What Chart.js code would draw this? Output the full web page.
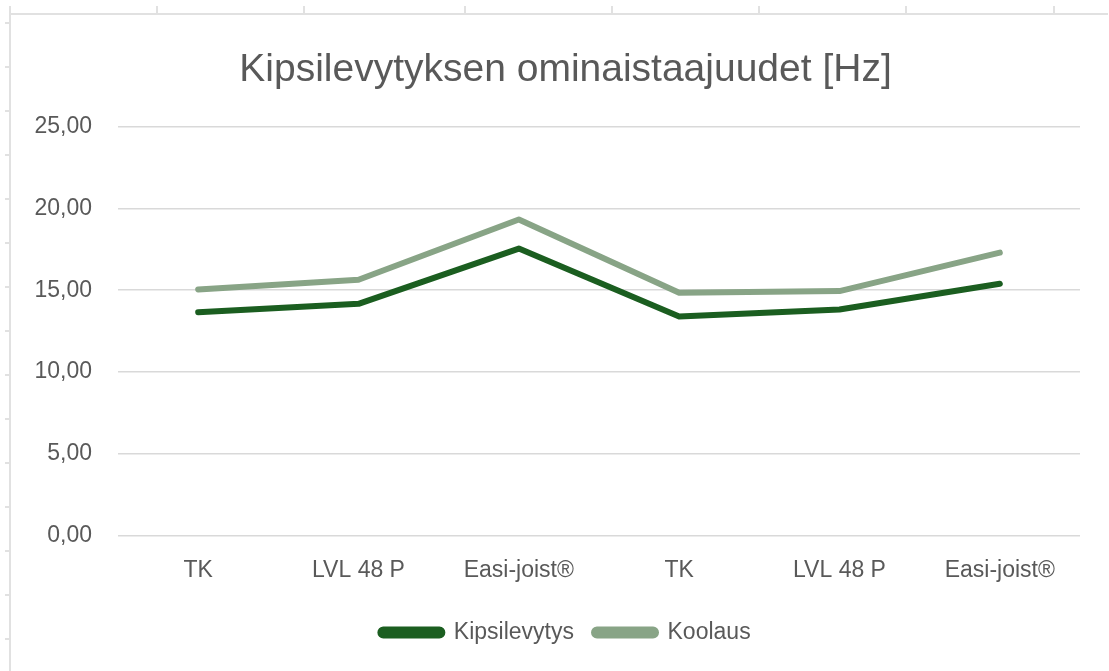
<!DOCTYPE html>
<html>
<head>
<meta charset="utf-8">
<script src="https://cdn.jsdelivr.net/npm/chart.js@4"></script>
<style>
  html, body { margin: 0; padding: 0; background: #fff; }
  #wrap { position: relative; width: 1109px; height: 671px; }
</style>
</head>
<body>
<div id="wrap"><canvas id="chart" width="1109" height="671"></canvas></div>
<script>
const categories = ["TK", "LVL 48 P", "Easi-joist®", "TK", "LVL 48 P", "Easi-joist®"];
const kipsilevytys = [13.66, 14.17, 17.55, 13.39, 13.82, 15.40];
const koolaus = [15.05, 15.64, 19.33, 14.85, 14.95, 17.30];
const yTicks = [0, 5, 10, 15, 20, 25];

const textColor = "#595959";
const fontFamily = "'Liberation Sans', Arial, sans-serif";

// spreadsheet frame behind the chart
const sheetFrame = {
  id: "sheetFrame",
  beforeDraw(chart) {
    const ctx = chart.ctx;
    ctx.save();
    ctx.fillStyle = "#fff";
    ctx.fillRect(0, 0, chart.width, chart.height);
    ctx.strokeStyle = "#e1e1e1";
    ctx.lineWidth = 2;
    ctx.beginPath();
    ctx.moveTo(10, 14);
    ctx.lineTo(1108, 14);
    ctx.moveTo(10, 6);
    ctx.lineTo(10, 671);
    [157, 304, 465, 612, 759, 906, 1054].forEach((x) => {
      ctx.moveTo(x, 6);
      ctx.lineTo(x, 14);
    });
    for (let y = 23; y < 671; y += 44) {
      ctx.moveTo(5, y);
      ctx.lineTo(10, y);
    }
    ctx.stroke();
    ctx.restore();
  },
};

new Chart(document.getElementById("chart"), {
  type: "line",
  data: {
    labels: categories,
    datasets: [
      {
        label: "Kipsilevytys",
        data: kipsilevytys,
        borderColor: "#1b5e20",
        backgroundColor: "#1b5e20",
        borderWidth: 6,
        borderCapStyle: "round",
        borderJoinStyle: "round",
        pointRadius: 0,
        tension: 0,
      },
      {
        label: "Koolaus",
        data: koolaus,
        borderColor: "#88a486",
        backgroundColor: "#88a486",
        borderWidth: 6,
        borderCapStyle: "round",
        borderJoinStyle: "round",
        pointRadius: 0,
        tension: 0,
      },
    ],
  },
  options: {
    responsive: false,
    animation: false,
    layout: { padding: { left: 22, right: 0, top: 0, bottom: 17 } },
    scales: {
      x: {
        offset: true,
        afterFit: (s) => { s.height += 4; },
        grid: { display: false },
        border: { display: false },
        ticks: { color: textColor, font: { family: fontFamily, size: 23 }, padding: 13, maxRotation: 0 },
      },
      y: {
        min: 0,
        max: 25,
        afterFit: (s) => { s.width = 96; },
        afterBuildTicks: (s) => { s.ticks = yTicks.map((v) => ({ value: v })); },
        grid: { color: "#d9d9d9", lineWidth: 1.5, drawTicks: false },
        border: { display: false },
        ticks: {
          color: textColor,
          font: { family: fontFamily, size: 23 },
          padding: 26,
          callback: (v) => v.toFixed(2).replace(".", ","),
        },
      },
      yRight: {
        position: "right",
        display: true,
        afterFit: (s) => { s.width = 29; },
        grid: { display: false },
        border: { display: false },
        ticks: { display: false },
      },
    },
    plugins: {
      title: {
        display: true,
        text: "Kipsilevytyksen ominaistaajuudet [Hz]",
        color: textColor,
        font: { family: fontFamily, size: 39, weight: "normal" },
        padding: { top: 47, bottom: 33 },
      },
      legend: {
        position: "bottom",
        labels: {
          color: textColor,
          font: { family: fontFamily, size: 23 },
          boxWidth: 62,
          boxHeight: 6,
          padding: 20,
          useBorderRadius: true,
          borderRadius: 3,
        },
      },
      tooltip: { enabled: false },
    },
  },
  plugins: [sheetFrame],
});
</script>
</body>
</html>
